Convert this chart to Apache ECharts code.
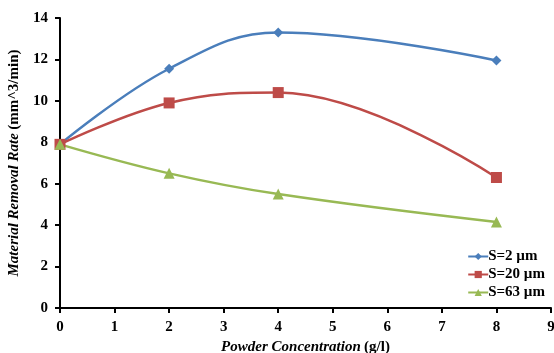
<!DOCTYPE html>
<html><head><meta charset="utf-8">
<script src="https://cdn.jsdelivr.net/npm/echarts@6/dist/echarts.min.js"></script>
<style>html,body{margin:0;padding:0;background:#fff}#c{width:554px;height:353px}</style>
</head><body><div id="c"></div>
<script>
const xValues = [0, 2, 4, 8];
const s2 = [7.9, 11.55, 13.3, 11.95];
const s20 = [7.9, 9.9, 10.4, 6.3];
const s63 = [7.9, 6.5, 5.5, 4.15];
const seriesNames = ['S=2 µm', 'S=20 µm', 'S=63 µm'];
const colors = ['#4a7ebb', '#be4b48', '#98b954'];
const symbols = ['diamond', 'rect', 'triangle'];
const symbolSizes = [10, 11, 11];

const font = '"Liberation Serif", "Times New Roman", serif';
const chart = echarts.init(document.getElementById('c'));
const mk = (vals, i) => ({
  name: seriesNames[i], type: 'line', data: xValues.map((x, k) => [x, vals[k]]),
  smooth: 0.4, smoothConstraint: false,
  symbol: symbols[i], symbolSize: symbolSizes[i], showSymbol: true,
  lineStyle: { color: colors[i], width: 2.5 }, itemStyle: { color: colors[i] }
});
chart.setOption({
  animation: false,
  grid: { left: 60, right: 3, top: 18, bottom: 45, containLabel: false, outerBoundsMode: 'none' },
  legend: {
    orient: 'vertical', right: 4, top: 244, itemGap: 3, itemWidth: 20, itemHeight: 9,
    textStyle: { fontFamily: font, fontWeight: 'bold', fontSize: 15, color: '#000', padding: [0, 0, 0, -5] }
  },
  xAxis: {
    type: 'value', min: 0, max: 9, interval: 1,
    axisLine: { lineStyle: { color: '#000', width: 2 } },
    axisTick: { lineStyle: { color: '#000', width: 2 }, length: 5 },
    splitLine: { show: false },
    axisLabel: { fontFamily: font, fontWeight: 'bold', fontSize: 15, color: '#000', margin: 12 },
    name: '{i|Powder Concentration} {n|(g/l)}', nameLocation: 'middle', nameGap: 28,
    nameTextStyle: { rich: {
      i: { fontFamily: font, fontStyle: 'italic', fontWeight: 'bold', fontSize: 15, color: '#000' },
      n: { fontFamily: font, fontWeight: 'bold', fontSize: 15, color: '#000' } } }
  },
  yAxis: {
    type: 'value', min: 0, max: 14, interval: 2,
    axisLine: { show: true, lineStyle: { color: '#000', width: 2 } },
    axisTick: { show: true, lineStyle: { color: '#000', width: 2 }, length: 5 },
    splitLine: { show: false },
    axisLabel: { fontFamily: font, fontWeight: 'bold', fontSize: 15, color: '#000', margin: 12 },
    name: '{i|Material Removal Rate} {n|(mm^3/min)}', nameLocation: 'middle', nameGap: 38,
    nameTextStyle: { rich: {
      i: { fontFamily: font, fontStyle: 'italic', fontWeight: 'bold', fontSize: 15, color: '#000' },
      n: { fontFamily: font, fontWeight: 'bold', fontSize: 15, color: '#000' } } }
  },
  series: [mk(s2, 0), mk(s20, 1), mk(s63, 2)]
});
</script></body></html>
